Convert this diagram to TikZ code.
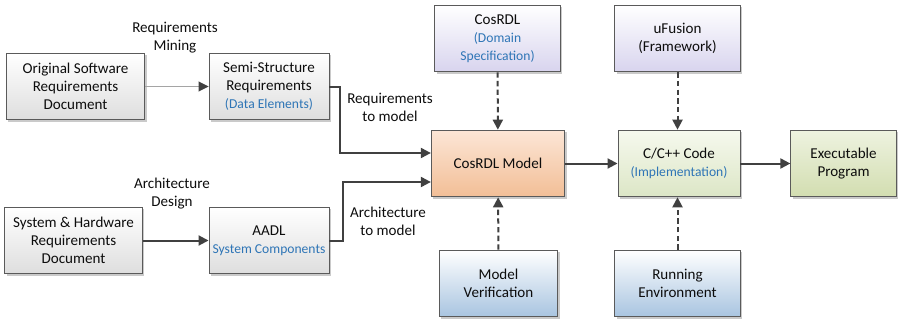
\documentclass[tikz,border=0pt]{standalone}
\usepackage{fontspec}
\setmainfont{Carlito}
\usetikzlibrary{arrows.meta,positioning,calc,shadows}
\definecolor{edgeline}{RGB}{90,90,90}
\definecolor{linkdark}{RGB}{64,64,64}
\definecolor{linklight}{RGB}{165,165,165}
\definecolor{notecol}{RGB}{46,117,182}
\definecolor{docbot}{RGB}{222,222,222}
\definecolor{specbot}{RGB}{216,212,238}
\definecolor{modeltop}{RGB}{252,230,214}
\definecolor{modelbot}{RGB}{242,190,150}
\definecolor{codetop}{RGB}{246,249,238}
\definecolor{codebot}{RGB}{220,230,198}
\definecolor{exetop}{RGB}{238,243,224}
\definecolor{exebot}{RGB}{210,221,176}
\definecolor{checkbot}{RGB}{168,196,224}
\newcommand{\notetxt}[1]{{\fontsize{10.2}{13.5}\selectfont\color{notecol}#1}}

\begin{document}
\begin{tikzpicture}[x=0.75pt, y=-0.75pt,
  every node/.style={font=\fontsize{11.3}{13.5}\selectfont, text=black!95, align=center},
  box/.style={draw=edgeline, line width=0.7pt, inner sep=1pt,
    drop shadow={shadow xshift=1.4pt, shadow yshift=-1.4pt, fill=black!35, opacity=0.6}},
  docN/.style={box, top color=white, bottom color=docbot},
  specN/.style={box, top color=white, bottom color=specbot},
  modelN/.style={box, top color=modeltop, bottom color=modelbot},
  codeN/.style={box, top color=codetop, bottom color=codebot},
  exeN/.style={box, top color=exetop, bottom color=exebot},
  checkN/.style={box, top color=white, bottom color=checkbot},
  link/.style={linkdark, line width=1.5pt, -{Triangle[length=7.5pt, width=7.5pt]}},
  thinlink/.style={linklight, line width=0.7pt, -{Triangle[length=7.5pt, width=7.5pt, color=linkdark]}},
  dlink/.style={link, dash pattern=on 4pt off 2.5pt},
]
\useasboundingbox (0,0) rectangle (909,321);
% boxes
\node[docN, minimum width=104pt, minimum height=50pt] (orig) at (75.5,86.5) {Original Software\\Requirements\\Document};
\node[docN, minimum width=90pt, minimum height=50pt] (semi) at (269,86.5) {Semi-Structure\\Requirements\\\notetxt{(Data Elements)}};
\node[docN, minimum width=103pt, minimum height=50pt] (sys) at (73.5,240.5) {System \& Hardware\\Requirements\\Document};
\node[docN, minimum width=90pt, minimum height=50pt] (aadl) at (269,240.5) {AADL\\\notetxt{System Components}};
\node[specN, minimum width=94pt, minimum height=50pt] (rdl) at (497.5,38.5) {CosRDL\\\notetxt{(Domain}\\\notetxt{Specification)}};
\node[specN, minimum width=94pt, minimum height=50pt] (fusion) at (677.5,38.5) {uFusion\\(Framework)};
\node[modelN, minimum width=100pt, minimum height=50pt] (model) at (498,163.5) {CosRDL Model};
\node[codeN, minimum width=91.5pt, minimum height=50pt] (code) at (679,163.5) {C/C++ Code\\\notetxt{(Implementation)}};
\node[exeN, minimum width=79pt, minimum height=50pt] (exe) at (843.5,163.5) {Executable\\Program};
\node[checkN, minimum width=89pt, minimum height=50pt] (verif) at (498.5,283.5) {Model\\Verification};
\node[checkN, minimum width=94pt, minimum height=50pt] (env) at (677.5,283.5) {Running\\Environment};
% connectors
\draw[thinlink] (orig) -- (semi);
\draw[link] (sys) -- (aadl);
\draw[link] (semi.east) -- ++(11,0) |- ($(model.west)+(0,-10.5)$);
\draw[link] (aadl.east) -- ++(14,0) |- ($(model.west)+(0,18.5)$);
\draw[link] (model) -- (code);
\draw[link] (code) -- (exe);
\draw[dlink] (rdl) -- (model);
\draw[dlink] (fusion) -- (fusion |- code.north);
\draw[dlink] (verif) -- (model);
\draw[dlink] (env) -- (env |- code.south);
% labels
\node (mining) at (175,38) {Requirements\\Mining};
\node (design) at (172,194) {Architecture\\Design};
\node (req2m) at (390,107) {Requirements\\to model};
\node (arch2m) at (388,221) {Architecture\\to model};
\end{tikzpicture}
\end{document}
